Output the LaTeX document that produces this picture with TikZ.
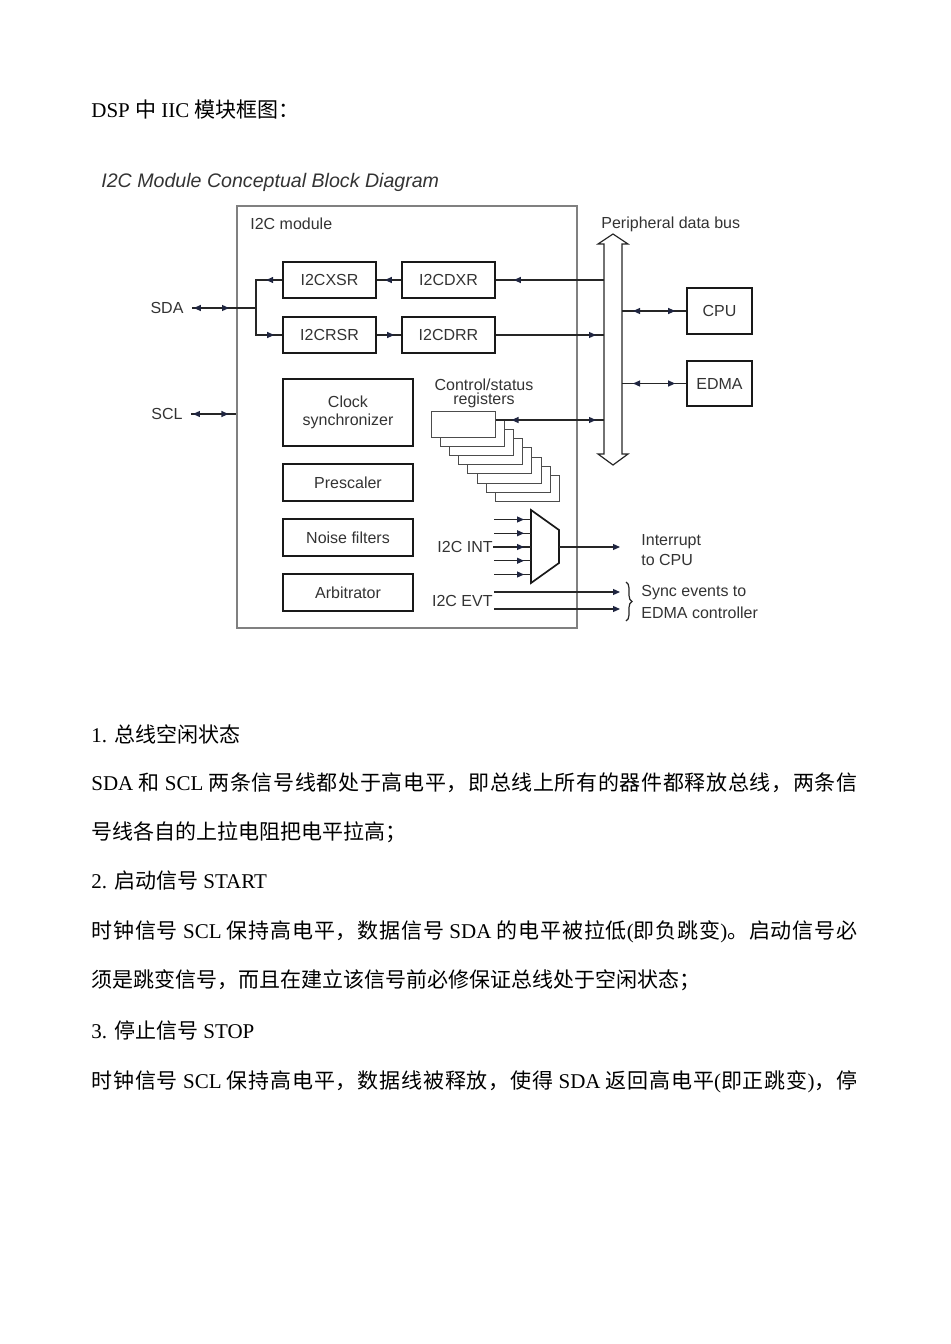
\documentclass[tikz,border=0pt]{standalone}
\usepackage{fontspec}
\setmainfont{Liberation Serif}
\newfontfamily\cjk{Noto Sans CJK SC}
\newfontfamily\diag{Liberation Sans}
\usetikzlibrary{arrows.meta,decorations.markings,decorations.pathreplacing}
\newcommand{\zh}[1]{{\cjk #1}}
\definecolor{tipcol}{HTML}{1F2540}
% 两端对齐：汉字之间插入可伸展的空白
\newXeTeXintercharclass\zhcls
\def\setzh#1{\ifx#1\relax\else\XeTeXcharclass`#1=\zhcls\expandafter\setzh\fi}
\setzh 和两条信号线都处于高电平，即总上所有的器件释放时钟保持数据拉低负跳变。启动必被使得返回正停\relax
\XeTeXinterchartoks\zhcls\zhcls={\hskip 0pt plus 1fil}
\XeTeXinterchartokenstate=1

\begin{document}
\begin{tikzpicture}[x=0.5pt,y=-0.5pt,
  >={Triangle[length=3.5pt,width=3pt,color=tipcol]},
  txt/.style={anchor=base west,inner sep=0pt,font=\fontsize{10.5pt}{12pt}\selectfont},
  lbl/.style={inner sep=0pt,text=black!80,font=\diag\fontsize{8pt}{9pt}\selectfont},
  blk/.style={draw=black!90,line width=0.85pt,inner sep=0pt,align=center,
    text=black!80,font=\diag\fontsize{8pt}{9pt}\selectfont},
  reg/.style={draw=black!70,line width=0.5pt,fill=white,inner sep=0pt,
    minimum width=32pt,minimum height=13pt},
  wire/.style={draw=black!85,line width=0.6pt},
  tip/.style={postaction={decorate,decoration={markings,
    mark=at position #1 with {\arrow{>}}}}},
  rtip/.style={postaction={decorate,decoration={markings,
    mark=at position #1 with {\arrowreversed{>}}}}}]
  \useasboundingbox (0,0) rectangle (950,1344);

  % 标题
  \node[txt] (head) at (91,117) {DSP \zh{中} IIC \zh{模块框图：}};
  \node[lbl,anchor=base west,font=\diag\itshape\fontsize{9.8pt}{11pt}\selectfont]
    (ttl) at (101,187) {I2C Module Conceptual Block Diagram};

  % 模块外框
  \node[draw=black!50,line width=0.6pt,minimum width=170pt,minimum height=211pt,
    inner sep=0pt] (i2cmod) at (407,417) {};
  \node[lbl,anchor=west] (modname) at (250,224) {I2C module};

  % 寄存器
  \node[blk,minimum width=46.5pt,minimum height=18pt] (xsr) at (329.5,280) {I2CXSR};
  \node[blk,minimum width=46.5pt,minimum height=18pt] (rsr) at (329.5,335) {I2CRSR};
  \node[blk,minimum width=46.5pt,minimum height=18pt] (dxr) at (448.5,280) {I2CDXR};
  \node[blk,minimum width=46.5pt,minimum height=18pt] (drr) at (448.5,335) {I2CDRR};

  % 左侧功能块
  \node[blk,minimum width=65pt,minimum height=33.5pt] (clk) at (348,412.5) {Clock\\synchronizer};
  \node[blk,minimum width=65pt,minimum height=18.5pt] (pre) at (348,482.5) {Prescaler};
  \node[blk,minimum width=65pt,minimum height=18.5pt] (nf) at (348,537.5) {Noise filters};
  \node[blk,minimum width=65pt,minimum height=18.5pt] (arb) at (348,592.5) {Arbitrator};

  % 控制/状态寄存器
  \node[lbl,align=center,font=\diag\fontsize{8pt}{7pt}\selectfont] (csrname) at (484,393)
    {Control/status\\registers};
  \foreach \k in {7,...,0}
    \node[reg] (csr\k) at (463+9.2*\k,424+9.2*\k) {};

  % 外设数据总线
  \draw[wire,line width=0.6pt] (613,234) -- (628,244) -- (622,244) -- (622,454)
    -- (628,454) -- (613,465) -- (598,454) -- (604,454) -- (604,244)
    -- (598,244) -- cycle;
  \coordinate (busl) at (604,0);
  \coordinate (busr) at (622,0);
  \node[lbl,anchor=west] (busname) at (601,224) {Peripheral data bus};

  \node[blk,minimum width=32.5pt,minimum height=23pt] (cpu) at (719.5,311) {CPU};
  \node[blk,minimum width=32.5pt,minimum height=22.5pt] (edma) at (719.5,383.5) {EDMA};

  % 引脚
  \node[lbl,inner xsep=4pt] (sda) at (167,308) {SDA};
  \node[lbl,inner xsep=4pt] (scl) at (167,414) {SCL};
  \coordinate (sdaj) at (256,308);

  % 连线
  \draw[wire,rtip=1pt,tip=-13.5pt] (sda) -- (sdaj);
  \draw[wire,tip=8pt] (xsr.west) -| (sdaj);
  \draw[wire,tip=-4pt] (sdaj) |- (rsr.west);
  \draw[wire,tip=-4pt] (dxr) -- (xsr);
  \draw[wire,tip=-3.5pt] (rsr) -- (drr);
  \draw[wire,tip=-9pt] (busl |- dxr.east) -- (dxr.east);
  \draw[wire,tip=-4pt] (drr.east) -- (busl |- drr.east);
  \draw[wire,rtip=5.5pt,tip=-5.5pt] (busr |- cpu.west) -- (cpu.west);
  \draw[wire,rtip=5.5pt,tip=-5.5pt] (busr |- edma.west) -- (edma.west);
  \coordinate (csrp) at ([yshift=2pt]csr0.east);
  \draw[wire,rtip=8pt,tip=-4pt] (csrp) -- (busl |- csrp);
  \draw[wire,rtip=1pt,tip=-4pt] (scl) -- (scl -| i2cmod.west);

  % 中断选择器
  \draw[draw=black!90,line width=0.85pt] (531,510) -- (559,530) -- (559,563)
    -- (531,583) -- cycle;
  \coordinate (muxo) at (559,547);
  \node[lbl,anchor=east] (intl) at (493,547) {I2C INT};
  \foreach \k in {0,1,3,4} {
    \coordinate (mi\k) at (494,519.5+13.75*\k);
    \coordinate (mo\k) at (531,519.5+13.75*\k);
    \draw[wire,tip=-3.5pt] (mi\k) -- (mo\k);
  }
  \coordinate (mo2) at (531,547);
  \draw[wire,tip=-3.5pt] (intl) -- (mo2);
  \node[lbl,anchor=west,align=left,font=\diag\fontsize{8pt}{10pt}\selectfont]
    (irq) at (641,550) {Interrupt\\to CPU};
  \draw[wire,->,shorten >=10.5pt] (muxo) -- (irq.west |- muxo);

  % 同步事件
  \node[lbl,anchor=east] (evt) at (493,601) {I2C EVT};
  \coordinate (ev1) at (494,592);
  \coordinate (ev2) at (494,609);
  \coordinate (br1) at (626,582);
  \coordinate (br2) at (626,621);
  \draw[wire,->,shorten >=3pt] (ev1) -- (ev1 -| br1);
  \draw[wire,->,shorten >=3pt] (ev2) -- (ev2 -| br1);
  \draw[wire,decorate,decoration={brace,amplitude=3pt}] (br1) -- (br2);
  \node[lbl,anchor=west,align=left,font=\diag\fontsize{8pt}{11pt}\selectfont]
    (sync) at (641,602) {Sync events to\\EDMA controller};

  % 正文
  \node[txt] (s1) at (91,742) {1. \zh{总线空闲状态}};
  \node[txt] (p1a) at (91,790) {\makebox[383pt][s]{SDA \zh{和} SCL
    \zh{两条信号线都处于高电平，即总线上所有的器件都释放总线，两条信}}};
  \node[txt] (p1b) at (91,839) {\zh{号线各自的上拉电阻把电平拉高；}};
  \node[txt] (s2) at (91,888) {2. \zh{启动信号} START};
  \node[txt] (p2a) at (91,938) {\makebox[383pt][s]{\zh{时钟信号} SCL
    \zh{保持高电平，数据信号} SDA \zh{的电平被拉低}(\zh{即负跳变})\zh{。启动信号必}}};
  \node[txt] (p2b) at (91,987) {\zh{须是跳变信号，而且在建立该信号前必修保证总线处于空闲状态；}};
  \node[txt] (s3) at (91,1038) {3. \zh{停止信号} STOP};
  \node[txt] (p3a) at (91,1088) {\makebox[383pt][s]{\zh{时钟信号} SCL
    \zh{保持高电平，数据线被释放，使得} SDA \zh{返回高电平}(\zh{即正跳变})\zh{，停}}};
\end{tikzpicture}
\end{document}
